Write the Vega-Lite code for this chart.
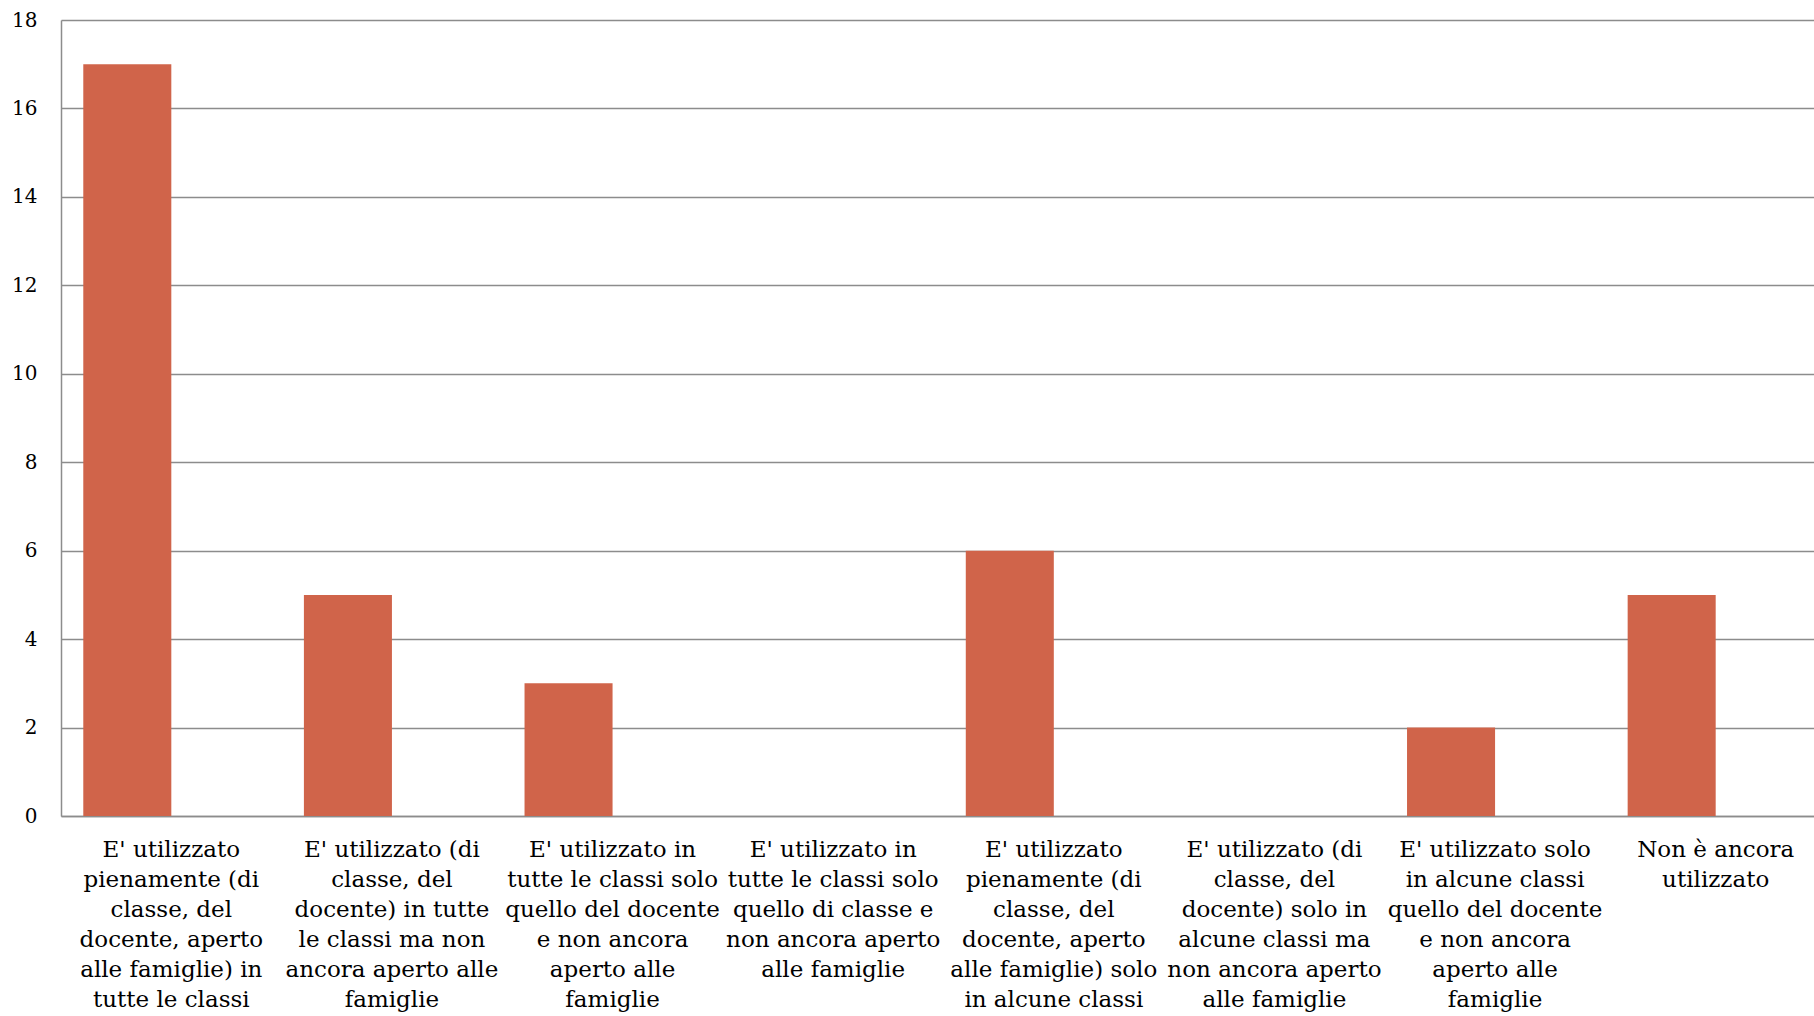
{
  "$schema": "https://vega.github.io/schema/vega-lite/v6.json",
  "width": 1753,
  "height": 796,
  "autosize": {"type": "none"},
  "padding": {"left": 61, "top": 20, "right": 0, "bottom": 200},
  "background": "white",
  "config": {"view": {"stroke": null}, "font": "DejaVu Serif"},
  "data": {
    "values": [
      {"categoria": "E' utilizzato|pienamente (di|classe, del|docente, aperto|alle famiglie) in|tutte le classi", "serie": "A", "valore": 17},
      {"categoria": "E' utilizzato (di|classe, del|docente) in tutte|le classi ma non|ancora aperto alle|famiglie", "serie": "A", "valore": 5},
      {"categoria": "E' utilizzato in|tutte le classi solo|quello del docente|e non ancora|aperto alle|famiglie", "serie": "A", "valore": 3},
      {"categoria": "E' utilizzato in|tutte le classi solo|quello di classe e|non ancora aperto|alle famiglie", "serie": "A", "valore": 0},
      {"categoria": "E' utilizzato|pienamente (di|classe, del|docente, aperto|alle famiglie) solo|in alcune classi", "serie": "A", "valore": 6},
      {"categoria": "E' utilizzato (di|classe, del|docente) solo in|alcune classi ma|non ancora aperto|alle famiglie", "serie": "A", "valore": 0},
      {"categoria": "E' utilizzato solo|in alcune classi|quello del docente|e non ancora|aperto alle|famiglie", "serie": "A", "valore": 2},
      {"categoria": "Non è ancora|utilizzato", "serie": "A", "valore": 5}
    ]
  },
  "mark": {"type": "bar", "color": "#d0644a"},
  "encoding": {
    "x": {
      "field": "categoria",
      "type": "nominal",
      "sort": null,
      "title": null,
      "scale": {"range": [0, 1765], "paddingInner": 0.202, "paddingOuter": 0.101},
      "axis": {
        "labelExpr": "split(datum.label, '|')",
        "labelAngle": 0,
        "labelFontSize": 23,
        "labelLineHeight": 30,
        "labelColor": "#000000",
        "labelPadding": 22,
        "labelLimit": 400,
        "labelOverlap": false,
        "labelBound": false,
        "labelBaseline": "top",
        "ticks": false,
        "grid": false,
        "domain": true,
        "domainColor": "#8c8c8c",
        "domainWidth": 1.5
      }
    },
    "xOffset": {
      "field": "serie",
      "type": "nominal",
      "scale": {"domain": ["A", "B"], "paddingInner": 0, "paddingOuter": 0}
    },
    "y": {
      "field": "valore",
      "type": "quantitative",
      "title": null,
      "scale": {"domain": [0, 18], "nice": false},
      "axis": {
        "values": [0, 2, 4, 6, 8, 10, 12, 14, 16, 18],
        "labelFontSize": 20,
        "labelColor": "#000000",
        "labelPadding": 24,
        "ticks": false,
        "grid": true,
        "gridColor": "#8c8c8c",
        "gridWidth": 1.5,
        "domain": true,
        "domainColor": "#8c8c8c",
        "domainWidth": 1.5
      }
    }
  }
}
